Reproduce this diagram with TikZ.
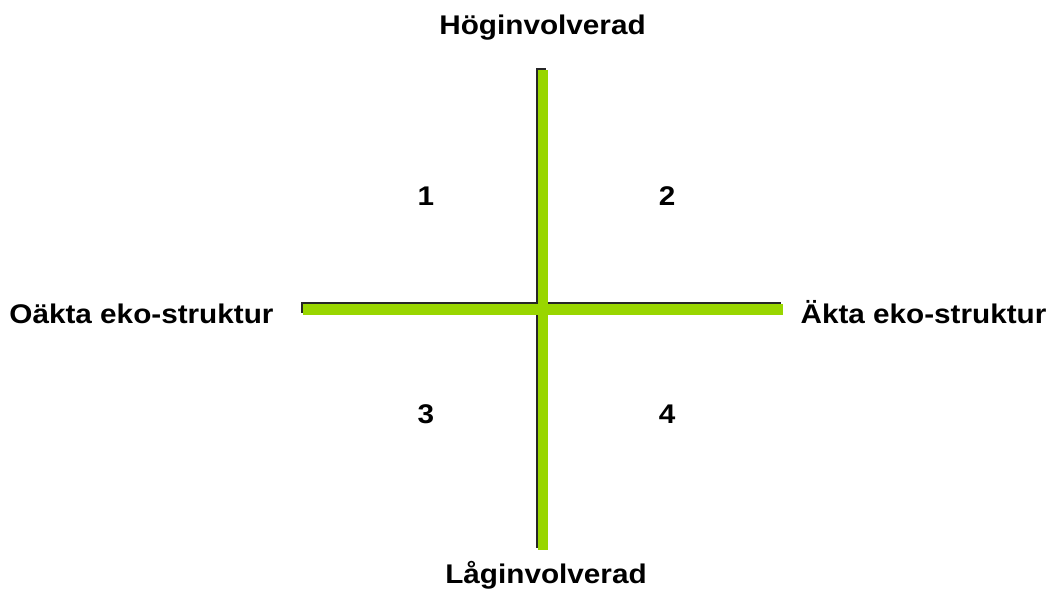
\documentclass[tikz,border=0pt]{standalone}
\usepackage{fontspec}
\setmainfont{Liberation Sans}
\newfontfamily\widesans[FakeStretch=1.1]{Liberation Sans}
\definecolor{axisgreen}{RGB}{153,214,0}
\begin{document}
\begin{tikzpicture}[x=1pt,y=-1pt,
  lbl/.style={font=\widesans\bfseries\fontsize{27}{30}\selectfont, anchor=base, inner sep=0pt},
  num/.style={font=\widesans\bfseries\fontsize{27}{30}\selectfont, anchor=base, inner sep=0pt},
  shadowline/.style={line width=10.5pt, black!85},
  axisline/.style={line width=10.5pt, axisgreen}]
\useasboundingbox (0,0) rectangle (1051,594);
% axis end points
\coordinate (top) at (543,70);
\coordinate (bot) at (543,550);
\coordinate (lft) at (303,309.5);
\coordinate (rgt) at (783,309.5);
% shadows
\draw[shadowline] ([shift={(-2,-2)}]top) -- ([shift={(-2,-2)}]bot);
\draw[shadowline] ([shift={(-2,-2)}]lft) -- ([shift={(-2,-2)}]rgt);
% axes
\draw[axisline] (top) -- (bot);
\draw[axisline] (lft) -- (rgt);
% labels
\node[lbl] (hog) at (542.5,35) {Höginvolverad};
\node[lbl] (lag) at (546,583) {Låginvolverad};
\node[lbl] (oakta) at (141.5,323) {Oäkta eko-struktur};
\node[lbl] (akta) at (923.5,323) {Äkta eko-struktur};
\node[num] (q1) at (426,205) {1};
\node[num] (q2) at (667,205) {2};
\node[num] (q3) at (426,423) {3};
\node[num] (q4) at (667,423) {4};
\end{tikzpicture}
\end{document}
